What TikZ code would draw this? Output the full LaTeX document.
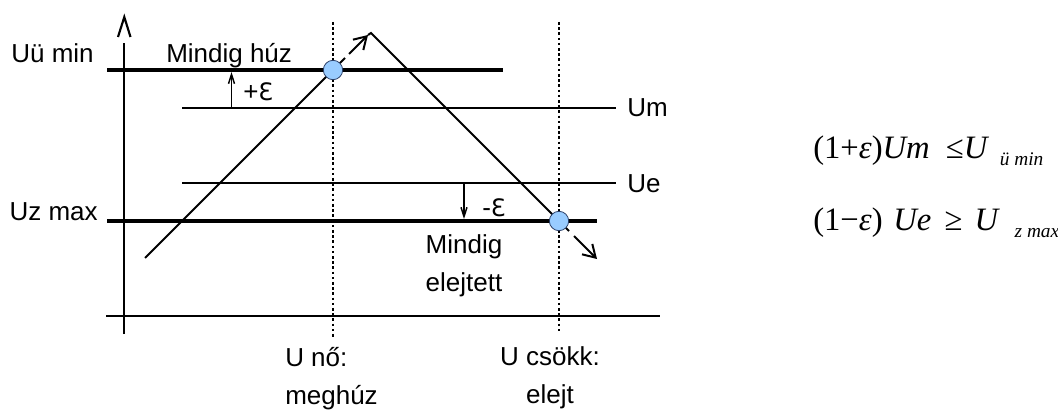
\documentclass[tikz,border=0pt]{standalone}
\usepackage{fontspec}
\setmainfont{Liberation Sans}
\newfontfamily\tnr{Liberation Serif}
\newfontfamily\dvs{DejaVu Sans}
\usetikzlibrary{arrows.meta}
\definecolor{dotblue}{RGB}{153,204,255}
\definecolor{dotrim}{RGB}{40,60,100}
\tikzset{
  thickline/.style={line width=2.3pt},
  thinline/.style={line width=1.5pt},
  guide/.style={line width=1.8pt, dash pattern=on 1.9pt off 2pt},
  hit/.style={circle, draw=dotrim, line width=0.6pt, fill=dotblue,
    minimum size=14.5pt, inner sep=0pt},
  lbl/.style={font=\fontsize{19.5}{28}\selectfont, inner sep=0pt},
  eqn/.style={font=\tnr\fontsize{24.5}{28}\selectfont, inner sep=0pt, anchor=base west},
  epsarrow/.style={line width=1.1pt, -{Straight Barb[length=7pt,width=4.5pt]}},
  run/.style={line width=1.5pt, -{Straight Barb[length=9pt,width=11pt]}}
}
\newcommand{\epsl}{{\dvs\fontsize{18}{20}\selectfont Ɛ}}
\newcommand{\lowidx}[1]{\raisebox{-0.5ex}{\fontsize{14.5}{15}\selectfont\textit{#1}}}

\begin{document}
\begin{tikzpicture}[x=0.75pt, y=-0.75pt]
  \useasboundingbox (0,0) rectangle (1058,410);

  % Coordinates
  \coordinate (A) at (124,334);
  \coordinate (B) at (124,43);
  \coordinate (C) at (106,316);
  \coordinate (D) at (660,316);
  \coordinate (E) at (107,70);
  \coordinate (F) at (503,70);
  \coordinate (G) at (182,108);
  \coordinate (H) at (616,108);
  \coordinate (I) at (182,183);
  \coordinate (J) at (616,183);
  \coordinate (K) at (107,221);
  \coordinate (L) at (597,221);
  \coordinate (M) at (333,22);
  \coordinate (N) at (333,337);
  \coordinate (O) at (559,22);
  \coordinate (P) at (559,333);
  \coordinate (Q) at (145,258);
  \coordinate (R) at (371,33);
  \coordinate (S) at (345,58);
  \coordinate (T) at (349,54);
  \coordinate (U) at (368,35);
  \coordinate (V) at (569,231);
  \coordinate (W) at (574,236);
  \coordinate (X) at (597,259);
  \coordinate (Y) at (231.5,108);
  \coordinate (Z) at (231.5,72);
  \coordinate (Y2) at (464,183);
  \coordinate (Z2) at (464,219);

  % Drawing
  \draw[line width=1.8pt] (A) -- (B);
  \draw[line width=1.6pt] (118,37) -- (124.3,17) -- (130.5,37);
  \draw[line width=1.8pt] (C) -- (D);
  \draw[guide] (M) -- (N);
  \draw[guide] (O) -- (P);
  \draw[thickline] (E) -- (F);
  \draw[thickline] (K) -- (L);
  \draw[thinline] (G) -- (H);
  \draw[thinline] (I) -- (J);
  \draw[epsarrow] (Y) -- (Z);
  \draw[epsarrow] (Y2) -- (Z2);
  \draw[thinline] (Q) -- (S);
  \draw[run] (T) -- (U);
  \draw[thinline] (U) -- (R) -- (V);
  \draw[run] (W) -- (X);
  \node[hit] (up) at (333,70) {};
  \node[hit] (down) at (559,221) {};

  \node[lbl, anchor=base east] (umin) at (94,63) {Uü min};
  \node[lbl, anchor=base east] (zmax) at (98,220) {Uz max};
  \node[lbl, anchor=base west] (pull) at (166,63) {Mindig húz};
  \node[lbl, anchor=base west] (peps) at (243,101) {+\epsl};
  \node[lbl, anchor=base west] (meps) at (482,216) {-\epsl};
  \node[lbl, anchor=base west] (um) at (627,117) {Um};
  \node[lbl, anchor=base west] (ue) at (627,192) {Ue};
  \node[lbl, align=center, anchor=base] (drop) at (464,291) {Mindig\\elejtett};
  \node[lbl, align=left, anchor=base west] (rise) at (285,404) {U nő:\\meghúz};
  \node[lbl, align=center, anchor=base] (fall) at (550,403) {U csökk:\\elejt};

  \node[eqn] (eq1) at (813,158) {(1+\textit{ε})\textit{Um}\hspace{12pt}≤\textit{U}\hspace{8pt}\lowidx{ü min}};
  \node[eqn] (eq2) at (813,230) {(1−\textit{ε})\hspace{8pt}\textit{Ue}\hspace{10pt}≥\hspace{9pt}\textit{U}\hspace{11pt}\lowidx{z max}};
\end{tikzpicture}
\end{document}
